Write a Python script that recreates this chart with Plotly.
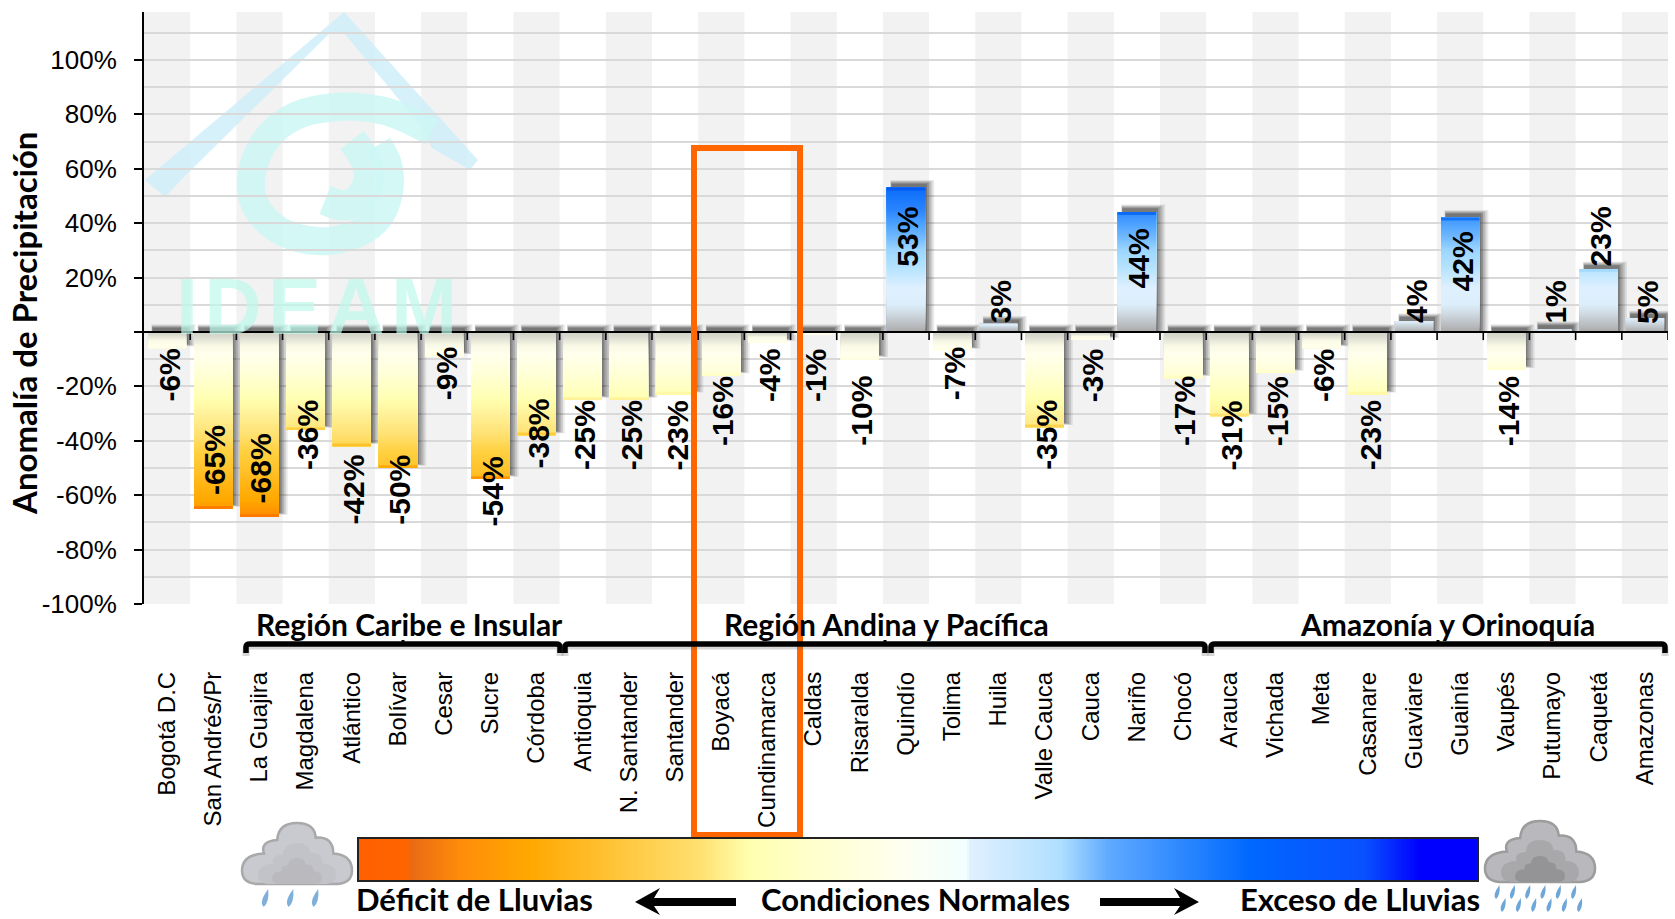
import plotly.graph_objects as go

W, H = 1675, 919

DEPARTMENTS = ["Bogotá D.C", "San Andrés/Pr", "La Guajira", "Magdalena", "Atlántico", "Bolívar", "Cesar", "Sucre",
               "Córdoba", "Antioquia", "N. Santander", "Santander", "Boyacá", "Cundinamarca", "Caldas", "Risaralda",
               "Quindío", "Tolima", "Huila", "Valle Cauca", "Cauca", "Nariño", "Chocó", "Arauca", "Vichada", "Meta",
               "Casanare", "Guaviare", "Guainía", "Vaupés", "Putumayo", "Caquetá", "Amazonas"]
ANOMALY = [-6, -65, -68, -36, -42, -50, -9, -54, -38, -25, -25, -23, -16, -4, -1, -10,
           53, -7, 3, -35, -3, 44, -17, -31, -15, -6, -23, 4, 42, -14, 1, 23, 5]
LABEL_Y = [-16, -47, -50, -38, -58, -58, -15.5, -58.5, -37.5, -38, -38, -38, -29, -16, -16, -29,
           35, -15.5, 11, -38, -16, 27, -29, -38, -29, -16, -38, 11, 26, -29, 11, 35, 11]
YTICK_VALUES = [100, 80, 60, 40, 20, 0, -20, -40, -60, -80, -100]
YTICK_TEXT = ["100%", "80%", "60%", "40%", "20%", "", "-20%", "-40%", "-60%", "-80%", "-100%"]
Y_TITLE = "Anomalía de Precipitación"
REGIONS = ["Región Caribe e Insular", "Región Andina y Pacífica", "Amazonía y Orinoquía"]
LEGEND_TEXT = ["Déficit de Lluvias", "Condiciones Normales", "Exceso de Lluvias"]

NEG_STOPS = [(0, "#cfcfc6"), (2, "#dcdcd0"), (5, "#f8f8e6"), (8, "#ffffec"), (15, "#ffffd8"), (25, "#ffffb0"),
             (30, "#fff29a"), (38, "#ffe070"), (44, "#ffd040"), (50, "#ffc42e"), (56, "#ffb414"), (62, "#ffa800"),
             (68, "#ff8a00"), (90, "#ff7000")]
POS_STOPS = [(0, "#a8a8a8"), (3, "#bcc0c4"), (7, "#d0dce4"), (10, "#dceefb"), (16, "#dff0ff"), (23, "#b8e4ff"),
             (30, "#9cd6ff"), (35, "#70b8ff"), (40, "#4aa0ff"), (45, "#2a84ff"), (53, "#0a6cf8"), (70, "#0050f0")]
RAMP_X = [358, 405, 412, 460, 530, 650, 700, 750, 820, 900, 967, 970, 1060, 1108, 1200, 1250, 1365, 1420, 1478]
RAMP_COLORS = ["#ff6000", "#ff6400", "#ea6a14", "#ff8c0a", "#ffa800", "#ffd050", "#ffe070", "#ffffb0", "#ffffd0",
               "#fffff0", "#f0ffff", "#e0f0ff", "#b0e0ff", "#60aaff", "#2080ff", "#0068ff", "#0a50ff", "#0000ff",
               "#0000ff"]

PLOT_L, PLOT_R, PLOT_T, PLOT_B = 144, 1668, 12, 604
Y_TOP = 117.6
BAR_W = 0.83


def hex2rgb(c):
    return tuple(int(c[i:i + 2], 16) for i in (1, 3, 5))


def interp(stops, v):
    for (a, ca), (b, cb) in zip(stops, stops[1:]):
        if a <= v <= b:
            t = (v - a) / (b - a)
            r = [round(p + (q - p) * t) for p, q in zip(hex2rgb(ca), hex2rgb(cb))]
            return "rgb(%d,%d,%d)" % tuple(r)
    return stops[-1][1]


def bar_color(y, value):
    stops = POS_STOPS if value > 0 else NEG_STOPS
    a, m = abs(y), abs(value)
    if m < 10:
        a = a * 10 / m
    elif m - a <= 1.2:
        a = a * 1.22
    return interp(stops, a)


def px(x):
    return x / W


def py(y):
    return 1 - y / H


def smooth(points, close=False):
    p = [(px(a), py(b)) for a, b in points]
    s = "M %.5f %.5f" % p[0]
    for i in range(1, len(p) - 1):
        mx, my = (p[i][0] + p[i + 1][0]) / 2, (p[i][1] + p[i + 1][1]) / 2
        s += " Q %.5f %.5f %.5f %.5f" % (p[i][0], p[i][1], mx, my)
    s += " L %.5f %.5f" % p[-1]
    return s + (" Z" if close else "")


def poly(points):
    p = [(px(a), py(b)) for a, b in points]
    return "M " + " L ".join("%.5f %.5f" % q for q in p) + " Z"


def paper_path(path, **kw):
    return dict(type="path", xref="paper", yref="paper", path=path, **kw)


CLOUD = [("M", .13, 1), ("Q", .0, .98, .0, .78), ("Q", .0, .52, .2, .5), ("Q", .16, .3, .32, .28),
         ("Q", .33, .0, .5, .0), ("Q", .66, .0, .67, .24), ("Q", .83, .22, .83, .5), ("Q", 1, .52, 1, .78),
         ("Q", 1, .98, .87, 1)]


def cloud_path(x0, y0, w, h):
    s = ""
    for seg in CLOUD:
        s += seg[0]
        vals = seg[1:]
        for i in range(0, len(vals), 2):
            s += " %.5f %.5f " % (px(x0 + vals[i] * w), py(y0 + vals[i + 1] * h))
    return s + "Z"


def drop_path(x, y, h):
    w = h * 0.36
    top = (px(x + w * .5), py(y))
    bot = (px(x - w * .2), py(y + h))
    l = (px(x - w), py(y + h * .72))
    r = (px(x + w * .7), py(y + h * .72))
    return "M %.5f %.5f Q %.5f %.5f %.5f %.5f Q %.5f %.5f %.5f %.5f Z" % (*top, *l, *bot, *r, *top)


shapes = []
# alternating grey bands
for i in range(0, len(DEPARTMENTS), 2):
    shapes.append(dict(type="rect", layer="below", xref="x", yref="y domain", x0=i - 0.5, x1=i + 0.5, y0=0, y1=1,
                       fillcolor="#f2f2f2", line_width=0))
# watermark logo
ROOF = [(145, 180), (344, 12), (478, 160), (470, 170), (432, 148), (420, 125), (344, 33), (329, 34), (184, 177), (165, 197)]
shapes.append(paper_path(poly(ROOF), layer="below", fillcolor="rgba(205,238,250,0.8)", line_width=0))
SPIRAL_A = [(432, 132), (400, 114), (360, 106), (329, 107), (295, 114), (265, 137), (250, 172), (252, 205), (277, 232),
            (315, 243), (350, 238), (378, 222), (390, 195), (390, 165), (378, 145)]
SPIRAL_B = [(352, 140), (372, 165), (365, 195), (345, 208), (325, 200)]
shapes.append(paper_path(smooth(SPIRAL_A), layer="below", line=dict(color="rgba(205,247,245,0.85)", width=28)))
shapes.append(paper_path(smooth(SPIRAL_B), layer="below", line=dict(color="rgba(205,247,245,0.85)", width=30)))
# zero line and category ticks
shapes.append(dict(type="line", xref="x domain", yref="y", x0=0, x1=1, y0=0, y1=0, line=dict(color="black", width=2)))
for i in range(1, len(DEPARTMENTS) + 1):
    shapes.append(dict(type="line", xref="x", yref="y", x0=i - 0.5, x1=i - 0.5, y0=0, y1=-3,
                       line=dict(color="black", width=1.6)))
# orange box
shapes.append(paper_path(poly([(694, 148), (800, 148), (800, 835), (694, 835)]), line=dict(color="#ff6600", width=6)))
# region brackets
for a, b in [(246, 560), (565, 1205), (1211, 1665)]:
    m = (a + b) / 2
    path = "M %.5f %.5f L %.5f %.5f Q %.5f %.5f %.5f %.5f L %.5f %.5f Q %.5f %.5f %.5f %.5f L %.5f %.5f" % (
        px(a), py(656), px(a), py(650), px(a), py(646), px(a + 4), py(646), px(b - 4), py(646), px(b), py(646),
        px(b), py(650), px(b), py(656))
    shapes.append(paper_path(path, line=dict(color="rgba(110,110,110,0.28)", width=7)))
    path = "M %.5f %.5f L %.5f %.5f Q %.5f %.5f %.5f %.5f L %.5f %.5f Q %.5f %.5f %.5f %.5f L %.5f %.5f" % (
        px(a), py(653), px(a), py(647), px(a), py(644), px(a + 4), py(644), px(b - 4), py(644), px(b), py(644),
        px(b), py(647), px(b), py(653))
    shapes.append(paper_path(path, line=dict(color="black", width=5.5)))
    shapes.append(dict(type="line", xref="paper", yref="paper", x0=px(m), x1=px(m), y0=py(645), y1=py(640),
                       line=dict(color="black", width=3)))
# colour ramp frame
shapes.append(dict(type="rect", xref="paper", yref="paper", x0=px(358), x1=px(1478), y0=py(881), y1=py(838),
                   line=dict(color="#222222", width=2)))
# arrows
shapes.append(paper_path(poly([(635, 902), (660, 888), (654, 898), (736, 898), (736, 906), (654, 906), (660, 915)]),
                         fillcolor="black", line_width=0))
shapes.append(paper_path(poly([(1199, 902), (1174, 888), (1180, 898), (1100, 898), (1100, 906), (1180, 906), (1174, 915)]),
                         fillcolor="black", line_width=0))
# clouds
shapes.append(paper_path(cloud_path(242, 823, 110, 61), fillcolor="#c9cad0", line=dict(color="#a9a9a9", width=2.5)))
shapes.append(paper_path(cloud_path(258, 843, 78, 41), fillcolor="#c2c3c9", line_width=0))
shapes.append(paper_path(cloud_path(272, 858, 50, 26), fillcolor="#bababe", line_width=0))
for x in (265, 290, 315):
    shapes.append(paper_path(drop_path(x, 889, 18), fillcolor="#7fb0dc", line_width=0))
shapes.append(paper_path(cloud_path(1485, 821, 110, 61), fillcolor="#b9b9bd", line=dict(color="#9c9c9c", width=2.5)))
shapes.append(paper_path(cloud_path(1501, 840, 78, 42), fillcolor="#a8a8ab", line_width=0))
shapes.append(paper_path(cloud_path(1515, 856, 50, 26), fillcolor="#949496", line_width=0))
for k in range(6):
    shapes.append(paper_path(drop_path(1497 + k * 15.3, 885, 14), fillcolor="#6fa6d8", line_width=0))
    shapes.append(paper_path(drop_path(1503 + k * 15.3, 898, 14), fillcolor="#6fa6d8", line_width=0))

traces = []
n = len(DEPARTMENTS)
# soft shadows: bars shifted up and to the right, layered to look blurred
for grow, alpha in [(0.12, 0.10), (0.09, 0.13), (0.06, 0.16), (0.03, 0.20), (0.0, 0.25)]:
    base = [1.5 + grow * 11 if v < 0 else 0 for v in ANOMALY]
    top = [v + 1.5 - grow * 6 if v < 0 else v + 1.5 + grow * 11 for v in ANOMALY]
    top = [t if v > 0 else min(t, -0.1) for t, v in zip(top, ANOMALY)]
    traces.append(go.Bar(x=DEPARTMENTS, y=[t - b for t, b in zip(top, base)], base=base,
                         width=BAR_W - 0.06 + grow * 1.5, offset=-BAR_W / 2 + 0.1 - grow * 0.2,
                         marker=dict(color="rgba(40,40,40,%g)" % alpha, line_width=0), hoverinfo="skip",
                         showlegend=False))
# bars with a solid fill, then a gradient painted through the same axes
traces.append(go.Bar(x=DEPARTMENTS, y=ANOMALY, width=BAR_W, name="Anomalía",
                     marker=dict(color=[bar_color(v, v) for v in ANOMALY], line_width=0), showlegend=False))
sx, sb, sh, sc = [], [], [], []
for d, v in zip(DEPARTMENTS, ANOMALY):
    sign = 1 if v > 0 else -1
    k = 0.0
    while k < abs(v):
        step = min(0.5, abs(v) - k)
        sx.append(d)
        sb.append(sign * k)
        sh.append(sign * (abs(v) - k))  # runs to the bar end; later slices paint over it
        sc.append(bar_color(sign * (k + step / 2), v))
        k += step
traces.append(go.Bar(x=sx, y=sh, base=sb, width=BAR_W, marker=dict(color=sc, line_width=0), hoverinfo="skip",
                     showlegend=False))
# legend colour ramp
LO, HI = RAMP_X[0], RAMP_X[-1]
colorscale = [[(a - LO) / (HI - LO), c] for a, c in zip(RAMP_X, RAMP_COLORS)]
ramp_x = list(range(LO, HI + 1, 2))
traces.append(go.Heatmap(x=ramp_x, y=[0, 1], z=[ramp_x, ramp_x], colorscale=colorscale, zmin=LO, zmax=HI,
                         showscale=False, xaxis="x2", yaxis="y2", hoverinfo="skip"))

LABEL_FONT = "Liberation Sans"
HEAD_FONT = "Lato"
annotations = []
for d, v, ly in zip(DEPARTMENTS, ANOMALY, LABEL_Y):
    annotations.append(dict(x=d, y=ly, text="%d%%" % v, textangle=-90, showarrow=False, xanchor="center",
                            yanchor="middle", xshift=2,
                            font=dict(family=LABEL_FONT, size=30, color="black", weight="bold")))
for text, cx in zip(REGIONS, (409, 886, 1447)):
    annotations.append(dict(xref="paper", yref="paper", x=px(cx), y=py(624), text=text, showarrow=False,
                            xanchor="center", yanchor="middle",
                            font=dict(family=HEAD_FONT, size=30, color="black", weight="bold")))
for text, cx in zip(LEGEND_TEXT, (474, 915, 1360)):
    annotations.append(dict(xref="paper", yref="paper", x=px(cx), y=0, text=text, showarrow=False,
                            xanchor="center", yanchor="bottom", borderpad=0,
                            font=dict(family=HEAD_FONT, size=31, color="black", weight="bold")))
annotations.append(dict(xref="paper", yref="paper", x=px(316), y=py(306), text="I\u200aD\u200aE\u200aA\u200aM",
                        showarrow=False, xanchor="center", yanchor="middle",
                        font=dict(family="Liberation Sans", size=79, color="rgba(190,250,235,0.7)", weight="bold")))
annotations.append(dict(xref="paper", yref="paper", x=px(24), y=py(323), text=Y_TITLE, textangle=-90,
                        showarrow=False, xanchor="center", yanchor="middle",
                        font=dict(family=HEAD_FONT, size=33, color="black", weight="bold")))

fig = go.Figure(traces)
fig.update_layout(
    width=W, height=H, margin=dict(l=0, r=0, t=0, b=0), barmode="overlay", paper_bgcolor="white",
    plot_bgcolor="white", showlegend=False, shapes=shapes, annotations=annotations,
    xaxis=dict(domain=[px(PLOT_L), px(PLOT_R)], range=[-0.5, n - 0.5], categoryorder="array",
               categoryarray=DEPARTMENTS, tickangle=-90, ticks="", showgrid=False, zeroline=False, automargin=False,
               ticklabelstandoff=62, tickfont=dict(family="Liberation Sans", size=24, color="black"), showline=False,
               dtick=1),
    yaxis=dict(domain=[py(PLOT_B), py(PLOT_T)], range=[-100, Y_TOP], tickvals=YTICK_VALUES, ticktext=YTICK_TEXT,
               ticks="outside", ticklen=8, tickwidth=1.6, tickcolor="black", showline=True, linecolor="black",
               linewidth=2, showgrid=True, gridcolor="#d9d9d9", gridwidth=2, zeroline=False, automargin=False,
               ticklabelstandoff=12, tickfont=dict(family="Liberation Sans", size=26, color="black"),
               minor=dict(dtick=10, tick0=0, showgrid=True, gridcolor="#d9d9d9", gridwidth=2, ticks="")),
    xaxis2=dict(domain=[px(358), px(1478)], anchor="y2", range=[LO, HI], visible=False),
    yaxis2=dict(domain=[py(881), py(838)], anchor="x2", range=[0, 1], visible=False),
)
fig.write_html("out.html", post_script="document.body.style.margin='0';", config=dict(displayModeBar=False))
